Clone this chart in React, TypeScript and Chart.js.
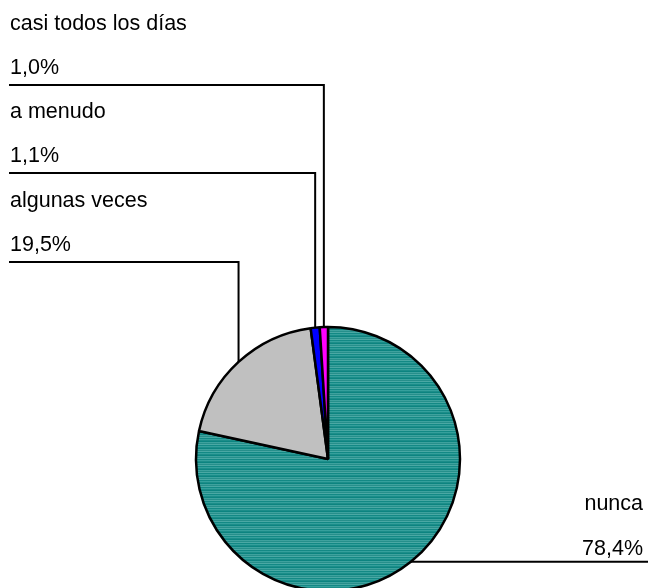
import React, { useEffect, useRef } from "react";
import { Chart, registerables } from "chart.js";

Chart.register(...registerables);

const categories = ["nunca", "algunas veces", "a menudo", "casi todos los días"];
const values = [78.4, 19.5, 1.1, 1.0];
const valueLabels = ["78,4%", "19,5%", "1,1%", "1,0%"];
const colors = ["teal", "#c0c0c0", "#0000ff", "#ff00ff"];

function makeTealPattern(): CanvasPattern | string {
  const c = document.createElement("canvas");
  c.width = 8;
  c.height = 7;
  const ctx = c.getContext("2d");
  if (!ctx) return "#2a9590";
  const rows = ["#0c8480", "#3ea29e", "#268f8b", "#4aa8a4", "#138985", "#35a09c", "#1c8d89"];
  rows.forEach((col, i) => {
    ctx.fillStyle = col;
    ctx.fillRect(0, i, 8, 1);
  });
  const p = ctx.createPattern(c, "repeat");
  return p || "#2a9590";
}

const labelPlugin = {
  id: "leaderLabels",
  afterDatasetsDraw(chart: any) {
    const ctx = chart.ctx;
    const meta = chart.getDatasetMeta(0);
    const leftLineY: Record<number, number> = { 1: 262, 2: 173, 3: 85 };
    ctx.save();
    ctx.strokeStyle = "#000";
    ctx.lineWidth = 2;
    ctx.fillStyle = "#000";
    ctx.font = "21.5px 'Liberation Sans', Arial, sans-serif";
    ctx.textBaseline = "alphabetic";
    meta.data.forEach((arc: any, i: number) => {
      const { x, y, startAngle, endAngle, outerRadius } = arc.getProps(
        ["x", "y", "startAngle", "endAngle", "outerRadius"],
        true
      );
      const mid = (startAngle + endAngle) / 2;
      const px = x + Math.cos(mid) * outerRadius;
      const py = y + Math.sin(mid) * outerRadius;
      if (i === 0) {
        const ly = py;
        ctx.beginPath();
        ctx.moveTo(px, ly);
        ctx.lineTo(chart.width + 2, ly);
        ctx.stroke();
        ctx.textAlign = "right";
        ctx.fillText(categories[i], 643, ly - 52);
        ctx.fillText(valueLabels[i], 643, ly - 7);
      } else {
        const ly = leftLineY[i];
        ctx.beginPath();
        ctx.moveTo(px, py);
        ctx.lineTo(px, ly);
        ctx.lineTo(9, ly);
        ctx.stroke();
        ctx.textAlign = "left";
        ctx.fillText(categories[i], 10, ly - 55);
        ctx.fillText(valueLabels[i], 10, ly - 11);
      }
    });
    ctx.restore();
  },
};

export default function App() {
  const ref = useRef<HTMLCanvasElement | null>(null);
  useEffect(() => {
    if (!ref.current) return;
    const bg = colors.map((c) => (c === "teal" ? makeTealPattern() : c));
    const chart = new Chart(ref.current, {
      type: "pie",
      data: {
        labels: categories,
        datasets: [
          {
            data: values,
            backgroundColor: bg as any,
            borderColor: "#000",
            borderWidth: 2.5,
            radius: 132,
          } as any,
        ],
      },
      options: {
        animation: false,
        responsive: false,
        events: [],
        layout: { padding: { left: 195, right: 187, top: 326, bottom: 8 } },
        plugins: { legend: { display: false }, tooltip: { enabled: false } },
      },
      plugins: [labelPlugin],
    });
    return () => chart.destroy();
  }, []);
  return (
    <div
      style={{
        position: "fixed",
        left: 0,
        top: 0,
        width: 648,
        height: 588,
        overflow: "hidden",
        background: "#fff",
      }}
    >
      <canvas ref={ref} width={648} height={600} style={{ width: 648, height: 600, display: "block" }} />
    </div>
  );
}
